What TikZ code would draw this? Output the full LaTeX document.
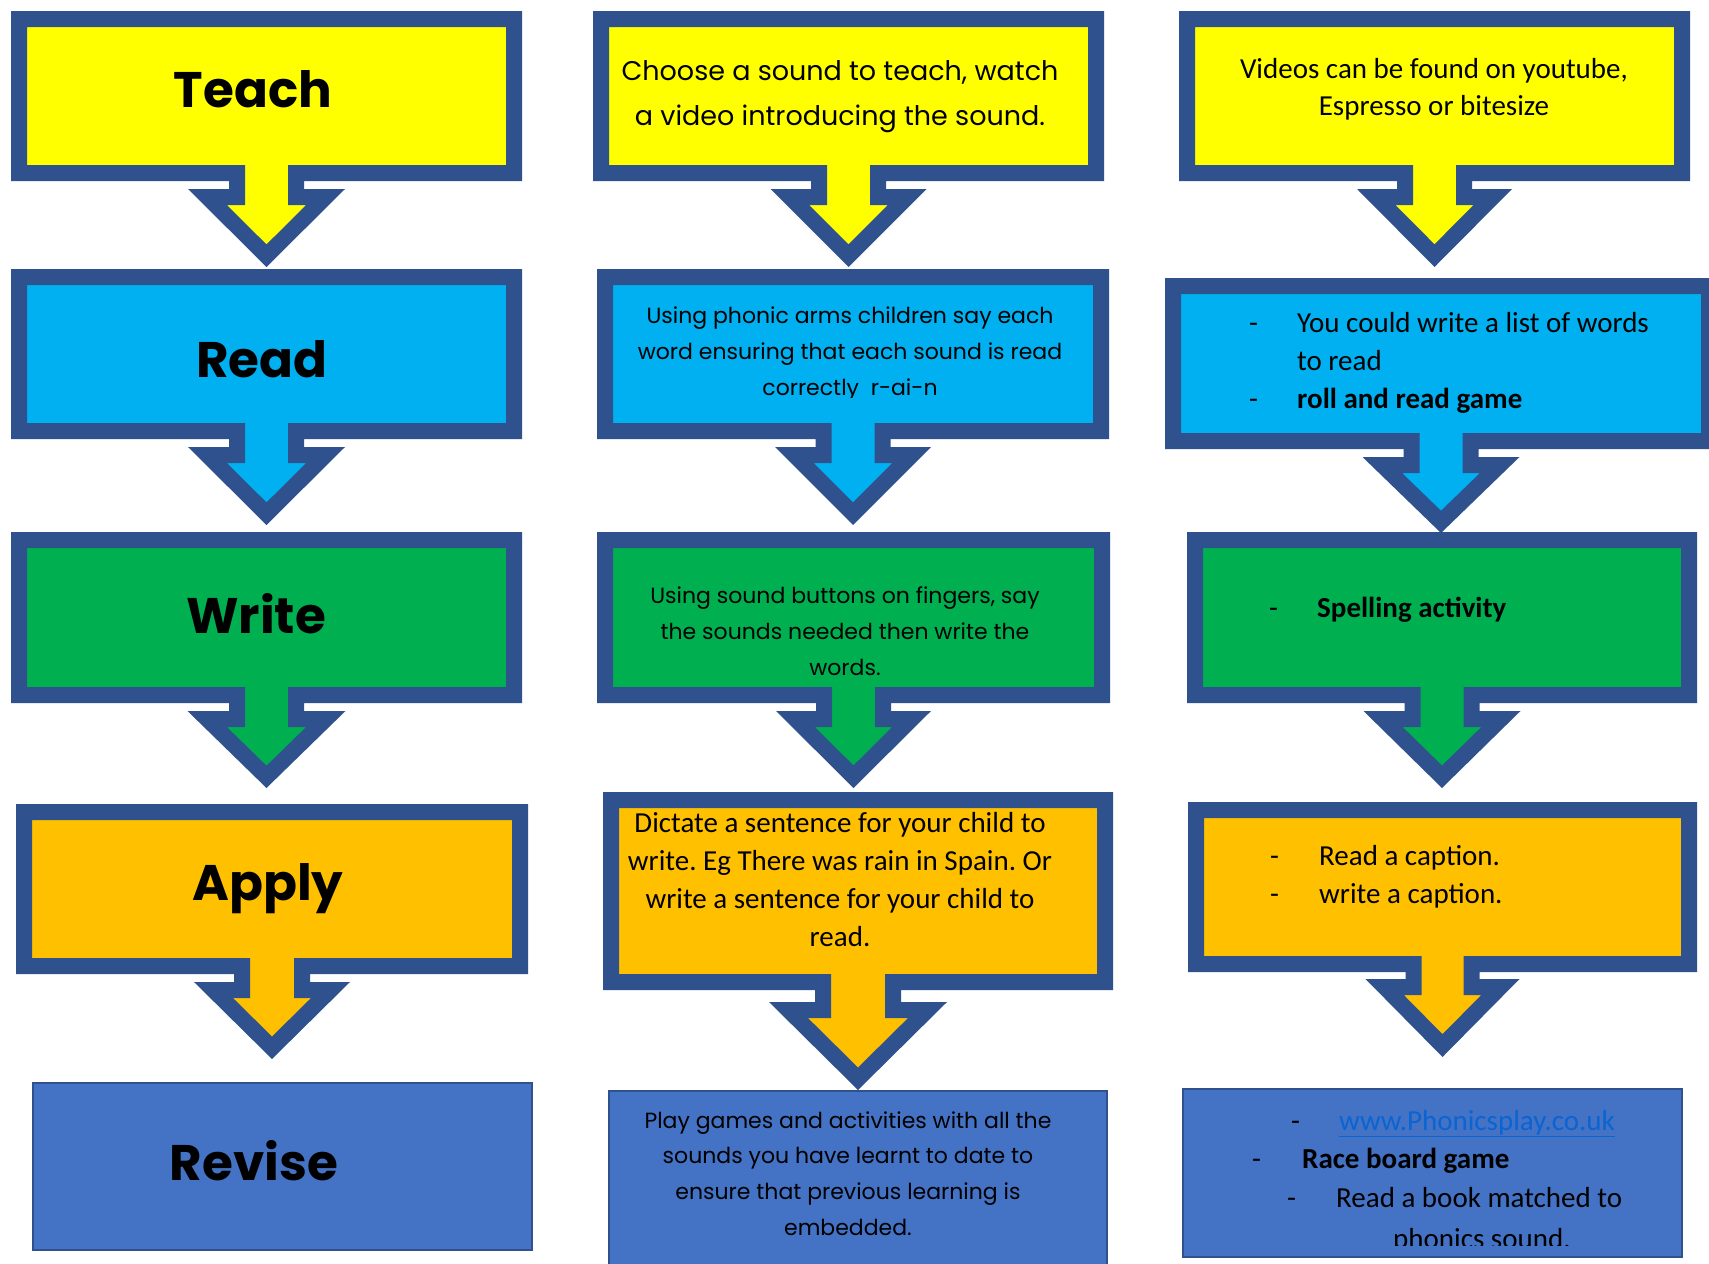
\documentclass[tikz,border=0pt]{standalone}
\usepackage{fontspec}
\setmainfont{Carlito}
\newfontfamily\comic{Poppins}
\newfontfamily\calib{Carlito}
\frenchspacing
\definecolor{bord}{HTML}{2F528F}
\definecolor{ylw}{HTML}{FFFF00}
\definecolor{cyn}{HTML}{00B0F0}
\definecolor{grn}{HTML}{00B050}
\definecolor{org}{HTML}{FFC000}
\definecolor{rev}{HTML}{4472C4}
\definecolor{lnk}{HTML}{0A64D2}
% #1 fill, #2 x1, #3 y1, #4 x2, #5 y2 (outer box), #6 shaft half width, #7 head base y, #8 head half width, #9 tip y
\newcommand\callout[9]{%
  \pgfmathsetmacro\coX{(#2+#4)/2}%
  \pgfmathsetmacro\coV{#9-#7}%
  \pgfmathsetmacro\coL{sqrt((#8)*(#8)+\coV*\coV)}%
  \pgfmathsetmacro\coD{8*\coL/\coV+8*(#8)/\coV}%
  \pgfmathsetmacro\coT{#9-8*\coL/(#8)}%
  \draw[callborder, fill=#1] (#2+8,#3+8) -- (#4-8,#3+8) -- (#4-8,#5-8)
    -- (\coX+#6-8,#5-8) -- (\coX+#6-8,#7+8) -- (\coX+#8-\coD,#7+8)
    -- (\coX,\coT) -- (\coX-#8+\coD,#7+8) -- (\coX-#6+8,#7+8)
    -- (\coX-#6+8,#5-8) -- (#2+8,#5-8) -- cycle;
}
% #1 name, #2 x, #3 first baseline y, #4 line step, #5 style, #6 lines
\newcommand\textlines[6]{%
  \foreach \tl [count=\ti] in {#6} {\node[#5] (#1-\ti) at (#2,{#3+(\ti-1)*#4}) {\tl};}%
}
\tikzset{
  callborder/.style={draw=bord, line width=16pt, line join=miter},
  revbox/.style={draw=bord, line width=2pt, fill=rev, rectangle, inner sep=0pt},
  ttl/.style={font=\comic\bfseries\fontsize{50}{60}\selectfont, anchor=base, inner sep=0pt},
  cst/.style={font=\comic\fontsize{27}{32}\selectfont, anchor=base, inner sep=0pt},
  cs/.style={font=\comic\fontsize{22}{26}\selectfont, anchor=base, inner sep=0pt},
  cb/.style={font=\calib\fontsize{29}{35}\selectfont, anchor=base, inner sep=0pt},
  cbl/.style={cb, anchor=base west},
}
\begin{document}
\begin{tikzpicture}[x=1pt,y=-1pt]
\useasboundingbox (0,0) rectangle (1709,1264);
\fill[white] (0,0) rectangle (1709,1264);

% Row 1: Teach
\callout{ylw}{11}{11}{522}{181}{37.5}{189}{78.5}{267}
\callout{ylw}{593}{11}{1104}{181}{37.5}{189}{78}{267}
\callout{ylw}{1179}{11}{1690}{181}{37.5}{189}{77.5}{267}
% Row 2: Read
\callout{cyn}{11}{269}{522}{439}{37.5}{447}{78.5}{525}
\callout{cyn}{597}{269}{1109}{439}{37.5}{447}{78}{525}
\callout{cyn}{1165}{278}{1717}{449}{37.5}{457}{78.5}{533}
% Row 3: Write
\callout{grn}{11}{532}{522}{703}{37.5}{711}{79}{788}
\callout{grn}{597}{532}{1110}{703}{37.5}{711}{77.5}{788}
\callout{grn}{1187}{532}{1697}{703}{37.5}{711}{78.5}{788}
% Row 4: Apply
\callout{org}{16}{804}{528}{974}{38}{982}{78}{1059}
\callout{org}{603}{792}{1113}{990}{43}{1002}{89}{1090}
\callout{org}{1188}{802}{1697}{972}{37}{979}{77}{1057}
% Row 5: Revise
\node[revbox, minimum width=499pt, minimum height=167pt] (rev1) at (282.5,1166.5) {};
\node[revbox, minimum width=498pt, minimum height=209pt] (rev2) at (858,1195.5) {};
\node[revbox, minimum width=499pt, minimum height=168pt] (rev3) at (1432.5,1173) {};

% Column 1 titles
\node[ttl] (tTeach) at (253,107) {Teach};
\node[ttl] (tRead) at (262,377) {Read};
\node[ttl] (tWrite) at (256,633) {Write};
\node[ttl] (tApply) at (268,900) {Apply};
\node[ttl] (tRevise) at (254,1180) {Revise};

% Column 2
\textlines{c2teach}{840}{80}{45}{cst}{{Choose a sound to teach, watch},{a video introducing the sound.}}
\begin{scope}
\clip (600,270) rectangle (1100,397);
\textlines{c2read}{850}{323}{36}{cs}{{Using phonic arms children say each},{word ensuring that each sound is read},{correctly~~r-ai-n}}
\end{scope}
\textlines{c2write}{845}{603}{36}{cs}{{Using sound buttons on fingers, say},{the sounds needed then write the},{words.}}
\textlines{c2apply}{840}{832}{38.3}{cb}{{Dictate a sentence for your child to},{write. Eg There was rain in Spain. Or},{write a sentence for your child to},{read.}}
\textlines{c2rev}{848}{1128}{35.7}{cs}{{Play games and activities with all the},{sounds you have learnt to date to},{ensure that previous learning is},{embedded.}}

% Column 3
\textlines{c3teach}{1434}{78}{37}{cb}{{Videos can be found on youtube,},{Espresso or bitesize}}
\node[cbl] (c3read-d1) at (1249,332) {-};
\node[cbl] (c3read-1) at (1297,332) {You could write a list of words};
\node[cbl] (c3read-2) at (1297,370) {to read};
\node[cbl] (c3read-d2) at (1249,408) {-};
\node[cbl] (c3read-3) at (1297,408) {\bfseries roll and read game};
\node[cbl] (c3write-d1) at (1269,617) {-};
\node[cbl] (c3write-1) at (1317,617) {\bfseries Spelling activity};
\node[cbl] (c3apply-d1) at (1270,865) {-};
\node[cbl] (c3apply-1) at (1319,865) {Read a caption.};
\node[cbl] (c3apply-d2) at (1270,903) {-};
\node[cbl] (c3apply-2) at (1319,903) {write a caption.};
\node[cbl] (c3rev-d1) at (1291,1130) {-};
\node[cbl, text=lnk] (c3rev-1) at (1339,1130) {\underline{www.Phonicsplay.co.uk}};
\node[cbl] (c3rev-d2) at (1252,1168) {-};
\node[cbl] (c3rev-2) at (1302,1168) {\bfseries Race board game};
\node[cbl] (c3rev-d3) at (1287,1207) {-};
\node[cbl] (c3rev-3) at (1336,1207) {Read a book matched to};
\begin{scope}
\clip (1185,1220) rectangle (1680,1245);
\node[cbl] (c3rev-4) at (1393,1248) {phonics sound.};
\end{scope}
\end{tikzpicture}
\end{document}
